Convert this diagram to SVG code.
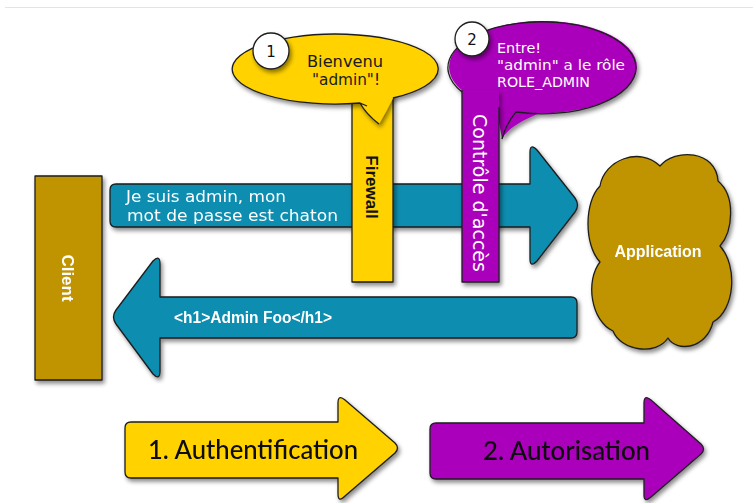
<svg xmlns="http://www.w3.org/2000/svg" width="753" height="503" viewBox="0 0 753 503">
  <defs>
    <filter id="shadow" x="-20%" y="-20%" width="140%" height="140%">
      <feDropShadow dx="2" dy="3" stdDeviation="2" flood-color="#000" flood-opacity="0.45"/>
    </filter>
    <style>
      .edge { stroke: #1e1e1e; stroke-width: 1.3; stroke-linejoin: round; }
      .teal { fill: #0b8db0; }
      .gold { fill: #bf9400; }
      .yellow { fill: #ffd200; }
      .purple { fill: #aa00bb; }
      .bold { font-family: "Liberation Sans", Arial, sans-serif; font-weight: bold; }
      .plain { font-family: "DejaVu Sans", Verdana, sans-serif; }
      .big { font-family: Lato, "Open Sans", sans-serif; font-size: 26px; font-weight: 500; fill: #0a0a0a; }
    </style>
  </defs>

  <rect width="753" height="503" fill="#ffffff"/>
  <line x1="5" y1="7.5" x2="753" y2="7.5" stroke="#e4e4e4" stroke-width="1"/>

  <!-- connectors: request and response arrows -->
  <g id="connectors">
    <g id="request" filter="url(#shadow)">
      <path class="teal edge" d="M116,184 L530,184 L530,152 Q530,143 537,150 L575,198 Q580,205 575,212 L537,261 Q530,268 530,259 L530,227 L116,227 Q110,227 110,221 L110,190 Q110,184 116,184 Z"/>
      <text class="plain" font-size="16" fill="#ffffff" x="126" y="202" textLength="160" lengthAdjust="spacingAndGlyphs">Je suis admin, mon</text>
      <text class="plain" font-size="16" fill="#ffffff" x="127" y="221" textLength="211" lengthAdjust="spacingAndGlyphs">mot de passe est chaton</text>
    </g>
    <g id="response" filter="url(#shadow)">
      <path class="teal edge" d="M571,297 Q577,297 577,303 L577,332 Q577,338 571,338 L160,338 L160,371 Q160,381 153,374 L116,324 Q111,317 116,310 L153,261 Q160,254 160,264 L160,297 Z"/>
      <text class="bold" font-size="16" fill="#ffffff" x="174" y="323" textLength="158" lengthAdjust="spacingAndGlyphs">&lt;h1&gt;Admin Foo&lt;/h1&gt;</text>
    </g>
  </g>

  <!-- client -->
  <g id="client" filter="url(#shadow)">
    <rect class="gold edge" x="35" y="176" width="67" height="204"/>
    <text class="bold" font-size="17" fill="#ffffff" transform="translate(68,278) rotate(90)" text-anchor="middle" y="6">Client</text>
  </g>

  <!-- application -->
  <g id="application" filter="url(#shadow)">
    <path class="gold edge" d="M600,262 C584,245 584,202 600,186 C604,160 640,146 660,166 C675,148 716,150 718,181 C736,196 733,231 720,246 C738,266 735,310 713,322 C706,350 676,352 668,338 C656,356 621,351 613,331 C591,321 585,281 600,262 Z"/>
    <text class="bold" font-size="16" fill="#ffffff" x="658" y="257" text-anchor="middle">Application</text>
  </g>

  <!-- firewall bar with speech bubble 1 -->
  <g id="firewall">
    <g filter="url(#shadow)">
      <path class="yellow" d="M352,90 L393,90 L393,282 L352,282 Z"/>
      <path class="edge" fill="none" d="M352,90 L352,282 L393,282 L393,90"/>
    </g>
    <g filter="url(#shadow)">
      <path class="yellow" d="M393,98 A103 35 0 1 0 360,103 Q366,114 379,124 Q386,112 393,98 Z"/>
      <path class="edge" fill="none" d="M393,98 A103 35 0 1 0 360,103 L367,106 M360,103 Q366,114 379,124"/>
    </g>
    <text class="bold" font-size="17" fill="#111" transform="translate(372,187) rotate(90)" text-anchor="middle" y="6">Firewall</text>
    <text class="plain" font-size="16" fill="#1a1a1a" x="307" y="67" textLength="76" lengthAdjust="spacingAndGlyphs">Bienvenu</text>
    <text class="plain" font-size="16" fill="#1a1a1a" x="312" y="85" textLength="68" lengthAdjust="spacingAndGlyphs">"admin"!</text>
    <circle cx="271" cy="51" r="18" fill="#ffffff" class="edge" filter="url(#shadow)"/>
    <text class="plain" font-size="15" fill="#111" x="271" y="56.5" text-anchor="middle">1</text>
  </g>

  <!-- access control bar with speech bubble 2 -->
  <g id="access-control">
    <g filter="url(#shadow)">
      <path class="purple" d="M540,113 A94 46 0 1 0 470,96 L495,100 L502,139 Q508,126 540,113 Z"/>
      <path class="edge" fill="none" d="M516,112 A94 46 0 1 0 462,92 M516,112 Q506,124 502,139"/>
    </g>
    <g filter="url(#shadow)">
      <path class="purple" d="M462,90 L499,90 L499,282 L462,282 Z"/>
      <path class="edge" fill="none" d="M462,90 L462,282 L499,282 L499,107"/>
    </g>
    <text class="plain" font-size="19" fill="#ffffff" transform="translate(480,193) rotate(90)" text-anchor="middle" y="7">Contrôle d'accès</text>
    <text class="plain" font-size="14.5" fill="#ffffff" x="497" y="53" textLength="44" lengthAdjust="spacingAndGlyphs">Entre!</text>
    <text class="plain" font-size="14.5" fill="#ffffff" x="497" y="70" textLength="128" lengthAdjust="spacingAndGlyphs">"admin" a le rôle</text>
    <text class="plain" font-size="14.5" fill="#ffffff" x="497" y="87" textLength="93" lengthAdjust="spacingAndGlyphs">ROLE_ADMIN</text>
    <circle cx="472" cy="39" r="17" fill="#ffffff" class="edge" filter="url(#shadow)"/>
    <text class="plain" font-size="15" fill="#111" x="472" y="44.5" text-anchor="middle">2</text>
  </g>

  <!-- legend arrows -->
  <g id="step-authentication" filter="url(#shadow)">
    <path class="yellow edge" d="M131,422 L338,422 L338,403 Q338,394 345,400 L395,443 Q400,448 395,453 L345,496 Q338,503 338,494 L338,478 L131,478 Q125,478 125,472 L125,428 Q125,422 131,422 Z"/>
    <text class="big" x="148" y="459" textLength="210" lengthAdjust="spacingAndGlyphs">1. Authentification</text>
  </g>
  <g id="step-authorization" filter="url(#shadow)">
    <path class="purple edge" d="M436,423 L644,423 L644,403 Q644,394 651,400 L701,444 Q706,449 701,454 L651,497 Q644,503 644,495 L644,479 L436,479 Q430,479 430,473 L430,429 Q430,423 436,423 Z"/>
    <text class="big" x="483" y="460" textLength="167" lengthAdjust="spacingAndGlyphs">2. Autorisation</text>
  </g>
</svg>
